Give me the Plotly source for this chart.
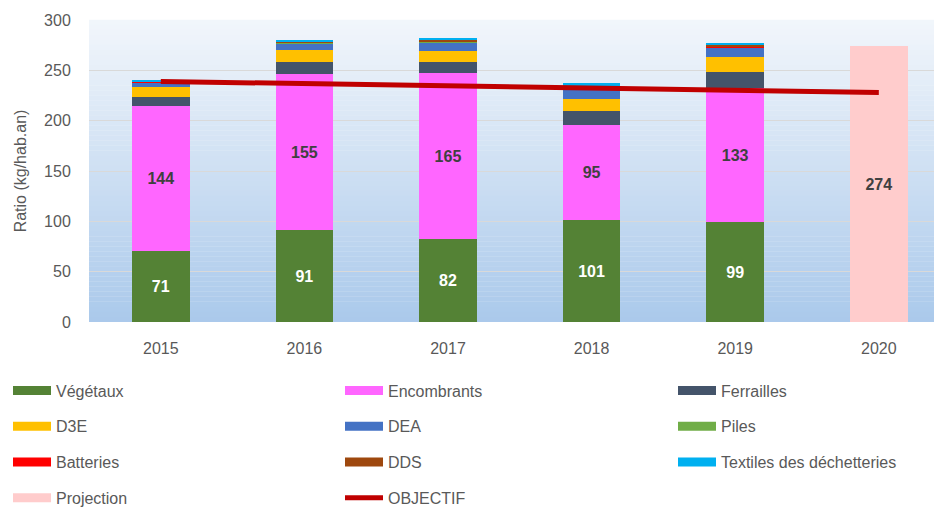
import plotly.graph_objects as go

years = ["2015", "2016", "2017", "2018", "2019"]
proj_year = ["2020"]
all_years = years + proj_year

vegetaux = [71, 91, 82, 101, 99]
encombrants = [144, 155, 165, 95, 133]
ferrailles = [9, 12, 11, 14, 16.5]
d3e = [9, 12, 11, 12, 15]
dea = [5, 7, 9, 10, 9]
piles = [0.3, 0.3, 0.3, 0.3, 0.3]
batteries = [0.3, 0.3, 0.3, 0.3, 0.3]
dds = [0.5, 1.5, 2, 2, 2.5]
textiles = [0.5, 1, 2, 2.5, 2]
projection = [274]
objectif = [239, 237, 235, 233, 231, 228]

names = ["Végétaux", "Encombrants", "Ferrailles", "D3E", "DEA", "Piles",
         "Batteries", "DDS", "Textiles des déchetteries"]
series = [vegetaux, encombrants, ferrailles, d3e, dea, piles, batteries, dds, textiles]
colors = ["#548235", "#FF66FF", "#44546A", "#FFC000", "#4472C4", "#70AD47",
          "#FF0000", "#9E480E", "#00B0F0"]
proj_color = "#FFCCCC"
obj_color = "#C00000"

FONT = "Liberation Sans, Arial, sans-serif"
GREY = "#595959"

fig = go.Figure()

for i, (nm, vals, col) in enumerate(zip(names, series, colors)):
    kw = dict(textposition="none")
    if nm == "Végétaux":
        kw = dict(text=[str(v) for v in vals], textposition="inside",
                  insidetextanchor="middle", constraintext="none",
                  textfont=dict(color="white", size=16, family=FONT, weight="bold"))
    elif nm == "Encombrants":
        kw = dict(text=[str(v) for v in vals], textposition="inside",
                  insidetextanchor="middle", constraintext="none",
                  textfont=dict(color="#404040", size=16, family=FONT, weight="bold"))
    fig.add_trace(go.Bar(x=years, y=vals, name=nm, marker=dict(color=col, line=dict(width=0)),
                         showlegend=False, hoverinfo="x+y+name", **kw))

fig.add_trace(go.Bar(x=proj_year, y=projection, name="Projection",
                     marker=dict(color=proj_color, line=dict(width=0)),
                     text=[str(v) for v in projection], textposition="inside",
                     insidetextanchor="middle", constraintext="none",
                     textfont=dict(color="#404040", size=16, family=FONT, weight="bold"),
                     showlegend=False))

fig.add_trace(go.Scatter(x=all_years, y=objectif, name="OBJECTIF", mode="lines",
                         line=dict(color=obj_color, width=5), showlegend=False))

# legend entries (3 columns)
legend_cols = {
    "legend": [("Végétaux", colors[0]), ("D3E", colors[3]), ("Batteries", colors[6]), ("Projection", proj_color)],
    "legend2": [("Encombrants", colors[1]), ("DEA", colors[4]), ("DDS", colors[7]), ("OBJECTIF", obj_color)],
    "legend3": [("Ferrailles", colors[2]), ("Piles", colors[5]), ("Textiles des déchetteries", colors[8])],
}
for lg, items in legend_cols.items():
    for nm, col in items:
        w = 5 if nm == "OBJECTIF" else 9
        fig.add_trace(go.Scatter(x=[None], y=[None], mode="lines", name=nm,
                                 line=dict(color=col, width=w), legend=lg,
                                 legendgroup=nm, showlegend=True, hoverinfo="skip"))

# gradient background
N = 60
top = (242, 246, 251)
bot = (170, 201, 235)
shapes = []
for k in range(N):
    t = (k + 0.5) / N
    c = tuple(round(top[j] + (bot[j] - top[j]) * t) for j in range(3))
    shapes.append(dict(type="rect", xref="x domain", yref="y domain",
                       x0=0, x1=1, y0=1 - (k + 1) / N, y1=1 - k / N + 0.001,
                       fillcolor="rgb(%d,%d,%d)" % c, line=dict(width=0), layer="below"))

# page body has an 8px margin, so the figure is sized to fit the window
W, H = 934, 501
ML, MT, PW, PH = 81, 12, 853, 302


def px_to_paper_x(fx):
    return (fx - ML) / PW


def px_to_paper_y(fy):
    return 1 - (fy - MT) / PH


leg_common = dict(orientation="v", yanchor="top", xanchor="left",
                  font=dict(family=FONT, size=16, color=GREY),
                  tracegroupgap=12, itemwidth=38, bgcolor="rgba(0,0,0,0)")
ly = px_to_paper_y(365.5)
fig.update_layout(
    width=W, height=H,
    margin=dict(l=ML, r=W - ML - PW, t=MT, b=H - MT - PH, autoexpand=False),
    paper_bgcolor="white", plot_bgcolor="rgba(0,0,0,0)",
    barmode="stack", bargap=0.6,
    shapes=shapes,
    font=dict(family=FONT, size=16, color=GREY),
    xaxis=dict(type="category", range=[-0.5, 5.44], showgrid=False,
               ticks="outside", ticklen=12, tickcolor="rgba(0,0,0,0)",
               tickfont=dict(size=16, color=GREY), zeroline=False, fixedrange=True),
    yaxis=dict(range=[0, 300], dtick=50, showgrid=True, gridcolor="#D9D9D9", gridwidth=1,
               ticks="outside", ticklen=14, tickcolor="rgba(0,0,0,0)",
               tickfont=dict(size=16, color=GREY), zeroline=False,
               title=dict(text="Ratio (kg/hab.an)", font=dict(size=16, color=GREY), standoff=13)),
    legend=dict(x=px_to_paper_x(0), y=ly, **leg_common),
    legend2=dict(x=px_to_paper_x(332), y=ly, **leg_common),
    legend3=dict(x=px_to_paper_x(665), y=ly, **leg_common),
    showlegend=True,
)

fig.write_html("out.html")
